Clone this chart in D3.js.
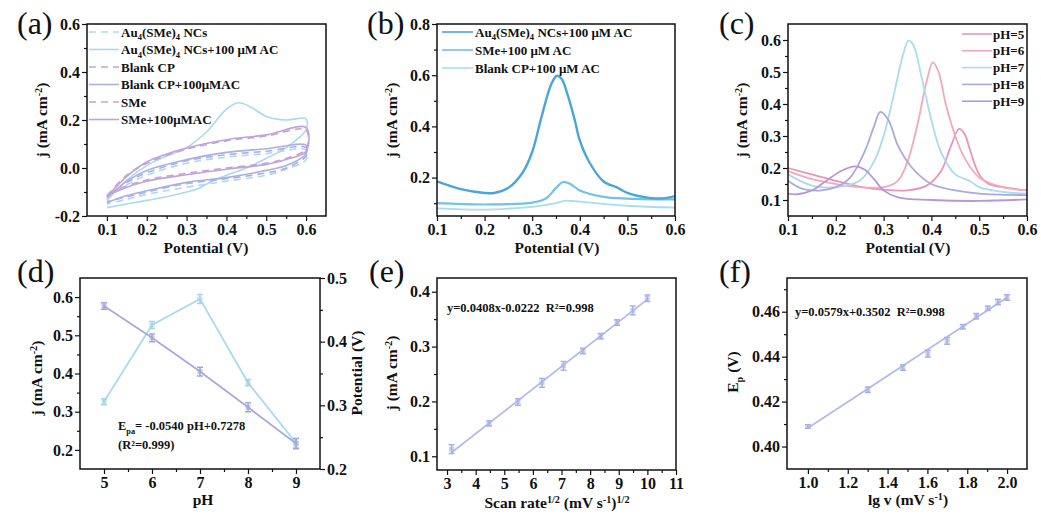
<!DOCTYPE html>
<html>
<head>
<meta charset="utf-8">
<script src="https://cdn.jsdelivr.net/npm/d3@7"></script>
<style>
  body { margin: 0; background: #fff; }
  text { font-family: "Liberation Serif", "Times New Roman", serif; font-weight: bold; fill: #111; }
</style>
</head>
<body>
<div class="canvas"></div>
<script>
'use strict';

// ---------- (a) CV curves: [potential, j] forward then reverse ----------
var cvAu = [[0.1,-0.13],[0.15,-0.07],[0.2,-0.03],[0.3,0.02],[0.4,0.045],[0.5,0.06],[0.6,0.075],
            [0.6,0.035],[0.55,-0.005],[0.5,-0.03],[0.4,-0.055],[0.3,-0.08],[0.2,-0.11],[0.15,-0.13],[0.1,-0.15]];
var cvAuAC = [[0.1,-0.135],[0.15,-0.05],[0.2,0.01],[0.25,0.05],[0.3,0.085],[0.35,0.15],[0.4,0.245],[0.43,0.272],[0.46,0.255],
              [0.5,0.215],[0.55,0.2],[0.6,0.205],[0.6,0.16],[0.55,0.085],[0.5,0.04],[0.45,0.0],[0.4,-0.03],[0.37,-0.05],
              [0.33,-0.085],[0.3,-0.1],[0.25,-0.12],[0.2,-0.135],[0.15,-0.15],[0.1,-0.165]];
var cvBlank = [[0.1,-0.12],[0.15,-0.06],[0.2,-0.02],[0.3,0.03],[0.4,0.055],[0.5,0.07],[0.6,0.085],
               [0.6,0.05],[0.55,0.0],[0.5,-0.02],[0.4,-0.045],[0.3,-0.065],[0.2,-0.1],[0.15,-0.12],[0.1,-0.14]];
var cvBlankAC = [[0.1,-0.125],[0.15,-0.055],[0.2,-0.01],[0.3,0.035],[0.4,0.065],[0.5,0.08],[0.6,0.095],
                 [0.6,0.06],[0.55,0.01],[0.5,-0.01],[0.4,-0.04],[0.3,-0.06],[0.2,-0.095],[0.15,-0.115],[0.1,-0.145]];
var cvSMe = [[0.1,-0.115],[0.15,-0.03],[0.2,0.02],[0.3,0.078],[0.4,0.113],[0.5,0.133],[0.6,0.158],
             [0.6,0.08],[0.55,0.04],[0.5,0.02],[0.4,0.0],[0.3,-0.022],[0.2,-0.05],[0.15,-0.075],[0.1,-0.11]];
var cvSMeAC = [[0.1,-0.12],[0.15,-0.035],[0.2,0.025],[0.3,0.083],[0.4,0.118],[0.5,0.138],[0.6,0.168],
               [0.6,0.07],[0.55,0.035],[0.5,0.015],[0.4,-0.005],[0.3,-0.028],[0.2,-0.055],[0.15,-0.08],[0.1,-0.115]];
var cvNames = ['Au_{4}(SMe)_{4} NCs', 'Au_{4}(SMe)_{4} NCs+100 μM AC', 'Blank CP', 'Blank CP+100μMAC', 'SMe', 'SMe+100μMAC'];

// ---------- (b) DPV ----------
var dpvAu = [[0.1,0.185],[0.15,0.155],[0.2,0.14],[0.22,0.14],[0.25,0.16],[0.28,0.22],[0.3,0.3],[0.32,0.44],[0.34,0.565],
             [0.352,0.598],[0.362,0.585],[0.375,0.52],[0.39,0.42],[0.4,0.345],[0.42,0.26],[0.45,0.185],[0.48,0.16],
             [0.5,0.14],[0.55,0.12],[0.58,0.12],[0.6,0.128]];
var dpvSMe = [[0.1,0.1],[0.2,0.095],[0.3,0.102],[0.33,0.12],[0.35,0.16],[0.365,0.183],[0.38,0.175],[0.4,0.15],
              [0.45,0.125],[0.5,0.118],[0.6,0.115]];
var dpvBlank = [[0.1,0.08],[0.2,0.075],[0.3,0.086],[0.35,0.1],[0.37,0.11],[0.4,0.106],[0.5,0.09],[0.6,0.083]];
var dpvNames = ['Au_{4}(SMe)_{4} NCs+100 μM AC', 'SMe+100 μM AC', 'Blank CP+100 μM AC'];

// ---------- (c) DPV at different pH ----------
var dpvPH5 = [[0.1,0.2],[0.15,0.18],[0.2,0.16],[0.25,0.142],[0.3,0.132],[0.35,0.13],[0.39,0.145],[0.42,0.19],
              [0.44,0.265],[0.458,0.322],[0.47,0.305],[0.48,0.26],[0.5,0.18],[0.52,0.15],[0.55,0.14],[0.6,0.13]];
var dpvPH6 = [[0.1,0.19],[0.15,0.165],[0.2,0.15],[0.25,0.14],[0.3,0.14],[0.33,0.16],[0.35,0.22],[0.37,0.33],
              [0.39,0.47],[0.403,0.53],[0.415,0.5],[0.43,0.4],[0.45,0.3],[0.47,0.23],[0.5,0.17],[0.55,0.14],[0.6,0.13]];
var dpvPH7 = [[0.1,0.18],[0.15,0.145],[0.2,0.14],[0.25,0.16],[0.28,0.22],[0.3,0.3],[0.32,0.42],[0.34,0.55],
              [0.352,0.598],[0.362,0.585],[0.38,0.48],[0.4,0.35],[0.42,0.25],[0.45,0.18],[0.48,0.16],[0.5,0.14],[0.55,0.125],[0.6,0.12]];
var dpvPH8 = [[0.1,0.16],[0.13,0.135],[0.17,0.13],[0.2,0.14],[0.23,0.17],[0.26,0.25],[0.28,0.33],[0.293,0.375],
              [0.31,0.35],[0.33,0.27],[0.36,0.2],[0.4,0.15],[0.45,0.13],[0.5,0.12],[0.6,0.115]];
var dpvPH9 = [[0.1,0.12],[0.12,0.118],[0.15,0.13],[0.18,0.16],[0.21,0.19],[0.24,0.205],[0.26,0.195],[0.28,0.165],
              [0.3,0.13],[0.33,0.108],[0.4,0.1],[0.5,0.097],[0.6,0.102]];
var phNames = ['pH=5', 'pH=6', 'pH=7', 'pH=8', 'pH=9'];

// ---------- (d) peak current / potential vs pH ----------
var pHValues = [5, 6, 7, 8, 9];
var jPeak = [0.326, 0.527, 0.595, 0.376, 0.218];
var jPeakErr = [0.008, 0.009, 0.012, 0.008, 0.012];
var ePeak = [0.456, 0.406, 0.353, 0.297, 0.240];
var ePeakErr = [0.005, 0.006, 0.007, 0.007, 0.008];

// ---------- (e) j vs sqrt(scan rate) ----------
var sqrtRate = [3.16, 4.47, 5.48, 6.32, 7.07, 7.75, 8.37, 8.94, 9.49, 10];
var jScan = [0.113, 0.160, 0.199, 0.234, 0.265, 0.292, 0.319, 0.344, 0.366, 0.388];
var jScanErr = [0.008, 0.005, 0.006, 0.008, 0.008, 0.005, 0.005, 0.005, 0.008, 0.006];
var jFitX = [3.16, 10];
var jFitY = [0.107, 0.386];

// ---------- (f) Ep vs lg v ----------
var lgV = [1.0, 1.301, 1.477, 1.602, 1.699, 1.778, 1.845, 1.903, 1.954, 2.0];
var epScan = [0.4089, 0.4253, 0.4352, 0.4413, 0.4470, 0.4533, 0.4580, 0.4615, 0.4643, 0.4663];
var epScanErr = [0.0008, 0.0012, 0.0012, 0.0015, 0.0015, 0.0010, 0.0012, 0.0010, 0.0012, 0.0012];
var epFitX = [1.0, 2.0];
var epFitY = [0.4082, 0.4663];

// ---------- tick values ----------
var potTicks = [0.1, 0.2, 0.3, 0.4, 0.5, 0.6];
var aYTicks = [-0.2, 0.0, 0.2, 0.4, 0.6];
var bYTicks = [0.2, 0.4, 0.6, 0.8];
var cYTicks = [0.1, 0.2, 0.3, 0.4, 0.5, 0.6];
var dXTicks = [5, 6, 7, 8, 9];
var dYTicks = [0.2, 0.3, 0.4, 0.5, 0.6];
var dY2Ticks = [0.2, 0.3, 0.4, 0.5];
var eXTicks = [3, 4, 5, 6, 7, 8, 9, 10, 11];
var eYTicks = [0.1, 0.2, 0.3, 0.4];
var fXTicks = [1.0, 1.2, 1.4, 1.6, 1.8, 2.0];
var fYTicks = [0.40, 0.42, 0.44, 0.46];

var tickFont = 16;
var svg = d3.select('.canvas').append('svg').attr('width', 1041).attr('height', 519);

// Text with _{sub} and ^{sup} parts
function rich(sel, s, size) {
  var cur = 0;
  s.split(/([_^]\{[^}]*\})/).forEach(function (p) {
    if (!p) return;
    var m = p.match(/^([_^])\{(.*)\}$/);
    var target = m ? (m[1] === '_' ? 0.3 * size : -0.33 * size) : 0;
    sel.append('tspan').attr('dy', target - cur).attr('font-size', m ? size * 0.66 : size).text(m ? m[2] : p);
    cur = target;
  });
  return sel;
}

function midpoints(t) {
  return d3.pairs(t).map(function (p) { return (p[0] + p[1]) / 2; });
}

function styleAxis(sel) {
  sel.selectAll('.domain').remove();
  sel.selectAll('.tick line').attr('stroke', '#111').attr('stroke-width', 1.2);
  sel.selectAll('.tick text').attr('font-size', tickFont).attr('fill', '#111')
    .style('font-family', '"Liberation Serif", serif').style('font-weight', 'bold');
}

// Build one framed panel with ticked axes
function panel(c) {
  var g = svg.append('g').attr('transform', 'translate(' + c.left + ',' + c.top + ')');
  var x = d3.scaleLinear().domain(c.xDomain).range([0, c.width]);
  var y = d3.scaleLinear().domain(c.yDomain).range([c.height, 0]);

  var xAxisGroup = g.append('g').attr('transform', 'translate(0,' + c.height + ')');
  xAxisGroup.call(d3.axisBottom(x).tickValues(c.xTicks).tickSize(5).tickPadding(3).tickFormat(c.xFmt));
  xAxisGroup.append('g').call(d3.axisBottom(x).tickValues(c.xMinor || midpoints(c.xTicks)).tickSize(3).tickFormat(''));

  var yAxisGroup = g.append('g');
  yAxisGroup.call(d3.axisLeft(y).tickValues(c.yTicks).tickSize(5).tickPadding(2).tickFormat(c.yFmt));
  yAxisGroup.append('g').call(d3.axisLeft(y).tickValues(c.yMinor || midpoints(c.yTicks)).tickSize(3).tickFormat(''));

  styleAxis(g);
  return { g: g, x: x, y: y, w: c.width, h: c.height };
}

function frame(p) {
  p.g.append('rect').attr('width', p.w).attr('height', p.h)
    .attr('fill', 'none').attr('stroke', '#111').attr('stroke-width', 1.5);
}

function drawLine(p, pts, color, width, dash, curve) {
  var line = d3.line().x(function (d) { return p.x(d[0]); }).y(function (d) { return p.y(d[1]); })
    .curve(curve || d3.curveCatmullRom.alpha(0.5));
  p.g.append('path').datum(pts).attr('d', line).attr('fill', 'none')
    .attr('stroke', color).attr('stroke-width', width).attr('stroke-dasharray', dash || null);
}

function errorBars(p, xs, ys, errs, yScale, color) {
  var cap = 3;
  var data = xs.map(function (v, i) { return { x: v, y: ys[i], e: errs[i] }; });
  p.g.selectAll(null).data(data).enter().append('path')
    .attr('d', function (d) {
      var cx = p.x(d.x), y0 = yScale(d.y - d.e), y1 = yScale(d.y + d.e);
      return 'M' + (cx - cap) + ',' + y1 + 'H' + (cx + cap) + 'M' + cx + ',' + y1 + 'V' + y0 +
             'M' + (cx - cap) + ',' + y0 + 'H' + (cx + cap);
    })
    .attr('fill', 'none').attr('stroke', color).attr('stroke-width', 1.5);
  p.g.selectAll(null).data(data).enter().append('rect')
    .attr('x', function (d) { return p.x(d.x) - 2.5; }).attr('y', function (d) { return yScale(d.y) - 2.5; })
    .attr('width', 5).attr('height', 5).attr('fill', color).attr('opacity', 0.6);
}

function legend(p, names, colors, dashes, x0, x1, tx, y0, step, size) {
  names.forEach(function (n, i) {
    var yy = y0 + i * step;
    p.g.append('line').attr('x1', x0).attr('x2', x1).attr('y1', yy).attr('y2', yy)
      .attr('stroke', colors[i]).attr('stroke-width', 1.6).attr('stroke-dasharray', dashes ? dashes[i] : null);
    rich(p.g.append('text').attr('x', tx).attr('y', yy + size * 0.35).attr('font-size', size), n, size);
  });
}

function note(p, x, y, s) {
  rich(p.g.append('text').attr('x', x).attr('y', y).attr('font-size', 12.5).attr('fill', '#333')
    .attr('xml:space', 'preserve'), s, 12.5);
}

function xTitle(cx, cy, s) {
  rich(svg.append('text').attr('x', cx).attr('y', cy).attr('text-anchor', 'middle').attr('font-size', 15.5), s, 15.5);
}
function yTitle(cx, cy, s) {
  rich(svg.append('text').attr('transform', 'translate(' + cx + ',' + cy + ') rotate(-90)')
    .attr('text-anchor', 'middle').attr('font-size', 15.5), s, 15.5);
}
function tag(x, y, s) {
  svg.append('text').attr('x', x).attr('y', y).attr('font-size', 32).style('font-weight', 'normal').text(s);
}

var f1 = function (d) { return d.toFixed(1); };
var f0 = function (d) { return d.toFixed(0); };
var f2 = function (d) { return d.toFixed(2); };

var cLightBlue = '#a9daf0', cLavender = '#abafe2', cPurple = '#c3a2d8';

// ---------- (a) ----------
var pa = panel({ left: 87, top: 24, width: 239, height: 192, xDomain: [0.05, 0.65], yDomain: [-0.2, 0.6],
  xTicks: potTicks, yTicks: aYTicks, xFmt: f1, yFmt: f1 });
var aSeries = [cvAu, cvAuAC, cvBlank, cvBlankAC, cvSMe, cvSMeAC];
var aColors = [cLightBlue, cLightBlue, cLavender, cLavender, cPurple, cPurple];
var aDash = ['7,5', null, '7,5', null, '7,5', null];
aSeries.forEach(function (s, i) { drawLine(pa, s, aColors[i], 1.6, aDash[i]); });
legend(pa, cvNames, aColors, aDash, 2, 32, 34, 8, 17.5, 13);
frame(pa);
xTitle(206, 253, 'Potential (V)');
yTitle(47, 120, 'j (mA cm^{-2})');
tag(17, 34, '(a)');

// ---------- (b) ----------
var pb = panel({ left: 437, top: 24, width: 238, height: 192, xDomain: [0.1, 0.6], yDomain: [0.05, 0.8],
  xTicks: potTicks, yTicks: bYTicks, yMinor: [0.1, 0.3, 0.5, 0.7], xFmt: f1, yFmt: f1 });
var bColors = ['#4ba6d8', '#6fc2e8', '#a9dcf0'];
drawLine(pb, dpvBlank, bColors[2], 1.8);
drawLine(pb, dpvSMe, bColors[1], 2.2);
drawLine(pb, dpvAu, bColors[0], 2.4);
legend(pb, dpvNames, bColors, null, 5, 36, 38, 8, 18, 13);
frame(pb);
xTitle(557, 253, 'Potential (V)');
yTitle(397, 120, 'j (mA cm^{-2})');
tag(367, 34, '(b)');

// ---------- (c) ----------
var pc = panel({ left: 788, top: 24, width: 239, height: 192, xDomain: [0.1, 0.6], yDomain: [0.05, 0.65],
  xTicks: potTicks, yTicks: cYTicks, xFmt: f1, yFmt: f1 });
var cColors = ['#ec94b8', '#f3a9b9', '#a9dcf0', '#aaaadd', '#b797d6'];
[dpvPH5, dpvPH6, dpvPH7, dpvPH8, dpvPH9].forEach(function (s, i) { drawLine(pc, s, cColors[i], 1.8); });
legend(pc, phNames, cColors, null, 174, 204, 205, 10, 16.8, 13);
frame(pc);
xTitle(908, 253, 'Potential (V)');
yTitle(747, 120, 'j (mA cm^{-2})');
tag(719, 34, '(c)');

// ---------- (d) ----------
var pd = panel({ left: 80, top: 278, width: 240, height: 191, xDomain: [4.5, 9.5], yDomain: [0.15, 0.65],
  xTicks: dXTicks, yTicks: dYTicks, yMinor: [0.25, 0.35, 0.45, 0.55], xFmt: f0, yFmt: f1 });
var yRight = d3.scaleLinear().domain([0.2, 0.5]).range([pd.h, 0]);
var yRightGroup = pd.g.append('g').attr('transform', 'translate(' + pd.w + ',0)');
yRightGroup.call(d3.axisRight(yRight).tickValues(dY2Ticks).tickSize(5).tickPadding(2).tickFormat(f1));
yRightGroup.append('g').call(d3.axisRight(yRight).tickValues(midpoints(dY2Ticks)).tickSize(3).tickFormat(''));
styleAxis(yRightGroup);
var dJ = pHValues.map(function (v, i) { return [v, jPeak[i]]; });
var dE = pHValues.map(function (v, i) { return [v, ePeak[i]]; });
var pdRight = { g: pd.g, x: pd.x, y: yRight };
drawLine(pd, dJ, cLightBlue, 1.8, null, d3.curveLinear);
drawLine(pdRight, dE, '#a9aadc', 1.8, null, d3.curveLinear);
errorBars(pd, pHValues, jPeak, jPeakErr, pd.y, '#a3d4ee');
errorBars(pd, pHValues, ePeak, ePeakErr, yRight, '#a3a6dc');
note(pd, 38, 152, 'E_{pa}= -0.0540 pH+0.7278');
note(pd, 38, 171, '(R²=0.999)');
frame(pd);
xTitle(203, 505, 'pH');
yTitle(42, 378, 'j (mA cm^{-2})');
yTitle(362, 373, 'Potential (V)');
tag(17, 282, '(d)');

// ---------- (e) ----------
var pe = panel({ left: 437, top: 278, width: 239, height: 192, xDomain: [2.65, 11], yDomain: [0.075, 0.425],
  xTicks: eXTicks, yTicks: eYTicks, yMinor: [0.15, 0.25, 0.35], xFmt: f0, yFmt: f1 });
drawLine(pe, jFitX.map(function (v, i) { return [v, jFitY[i]]; }), '#b3bbe8', 1.8, null, d3.curveLinear);
errorBars(pe, sqrtRate, jScan, jScanErr, pe.y, '#aab2e4');
note(pe, 10, 34, 'y=0.0408x-0.0222  R²=0.998');
frame(pe);
xTitle(557, 508, 'Scan rate^{1/2} (mV s^{-1})^{1/2}');
yTitle(397, 373, 'j (mA cm^{-2})');
tag(369, 282, '(e)');

// ---------- (f) ----------
var pf = panel({ left: 787, top: 278, width: 240, height: 191, xDomain: [0.895, 2.1], yDomain: [0.39, 0.475],
  xTicks: fXTicks, yTicks: fYTicks, xMinor: [1.1, 1.3, 1.5, 1.7, 1.9], yMinor: [0.41, 0.43, 0.45, 0.47], xFmt: f1, yFmt: f2 });
drawLine(pf, epFitX.map(function (v, i) { return [v, epFitY[i]]; }), '#b3bbe8', 1.8, null, d3.curveLinear);
errorBars(pf, lgV, epScan, epScanErr, pf.y, '#aab2e4');
note(pf, 8, 38, 'y=0.0579x+0.3502  R²=0.998');
frame(pf);
xTitle(908, 505, 'lg v (mV s^{-1})');
yTitle(738, 372, 'E_{p} (V)');
tag(719, 282, '(f)');
</script>
</body>
</html>
